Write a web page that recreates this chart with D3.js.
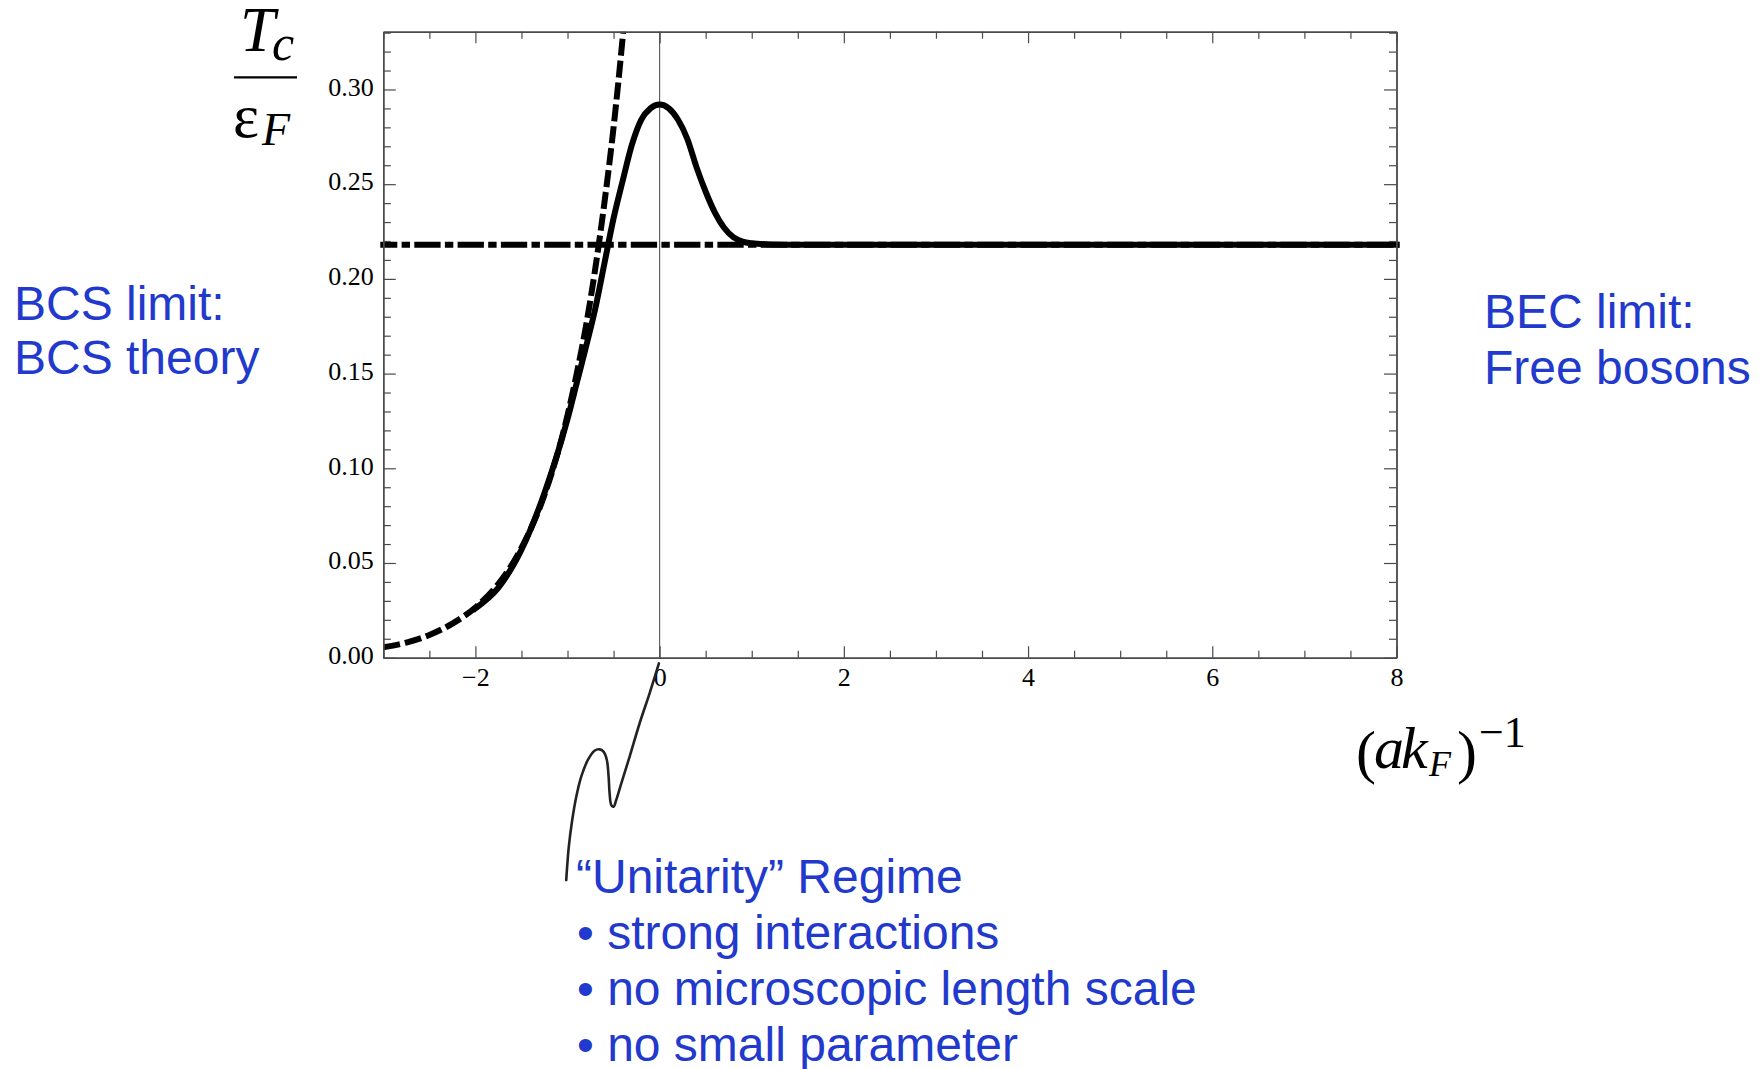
<!DOCTYPE html>
<html><head><meta charset="utf-8">
<script src="https://cdn.jsdelivr.net/npm/d3@7"></script>
<style>body{margin:0;background:#fff} svg{display:block}</style>
</head><body><svg id="c" width="1764" height="1069"></svg>
<script>
// ---- data ----
const xMajorTicks = [-2, 0, 2, 4, 6, 8];
const yMajorTicks = [0.00, 0.05, 0.10, 0.15, 0.20, 0.25, 0.30];
const xDomain = [-3, 8];
const yDomain = [0, 0.3305];
// BCS-limit (dashed) curve
const bcsX = [-3.0,-2.75,-2.5,-2.25,-2.0,-1.75,-1.5,-1.25,-1.0,-0.9,-0.8,-0.7,-0.6,-0.5,-0.45,-0.4,-0.38];
const bcsY = [0.0055,0.0080,0.0120,0.0180,0.0265,0.0390,0.0580,0.0860,0.1280,0.1500,0.1750,0.2050,0.2400,0.2800,0.3030,0.3280,0.3380];
// crossover Tc (solid) curve
const tcX = [-2.0,-1.75,-1.5,-1.25,-1.0,-0.9,-0.8,-0.7,-0.6,-0.5,-0.4,-0.3,-0.2,-0.1,0.0,0.1,0.2,0.3,0.4,0.5,0.6,0.7,0.8,0.9,1.0,1.2,1.5,2,3,4,5,6,7,8];
const tcY = [0.026,0.037,0.057,0.087,0.126,0.145,0.164,0.184,0.208,0.232,0.252,0.271,0.284,0.290,0.292,0.290,0.284,0.274,0.259,0.246,0.235,0.227,0.222,0.2197,0.2188,0.2182,0.218,0.218,0.218,0.218,0.218,0.218,0.218,0.218];
// BEC limit (dash-dot) level
const becLevel = 0.218;
// hand-drawn pointer to the unitarity point (data units)
const squiggleX = [-0.008,-0.109,-0.217,-0.326,-0.416,-0.471,-0.500,-0.525,-0.543,-0.554,-0.573,-0.609,-0.652,-0.707,-0.779,-0.851,-0.905,-0.949,-0.986,-1.014];
const squiggleY = [-0.003,-0.0188,-0.0346,-0.0523,-0.0663,-0.0751,-0.0787,-0.0778,-0.0716,-0.0628,-0.054,-0.0496,-0.0484,-0.0491,-0.054,-0.0628,-0.0734,-0.0857,-0.0998,-0.1174];
const bcsLabel = ["BCS limit:", "BCS theory"];
const becLabel = ["BEC limit:", "Free bosons"];
const unitLabel = ["\u201CUnitarity\u201D Regime", "\u2022 strong interactions", "\u2022 no microscopic length scale", "\u2022 no small parameter"];

// ---- layout ----
const svg = d3.select("#c");
const L = 383.3, R = 1396.5, T = 31.7, B = 657.7;
const x = d3.scaleLinear().domain(xDomain).range([L, R]);
const y = d3.scaleLinear().domain(yDomain).range([B, T]);
const frameCol = "#4a4a4a";
const blue = "#2139cc";
const serif = "'Liberation Serif','Times New Roman',serif";
const sans = "'Liberation Sans',Arial,sans-serif";

svg.append("defs").append("clipPath").attr("id","plot")
  .append("rect").attr("x",L).attr("y",T).attr("width",R-L).attr("height",B-T);

// vertical line at 0
svg.append("line").attr("x1",x(0)).attr("x2",x(0)).attr("y1",y(0)).attr("y2",T)
  .attr("stroke","#555").attr("stroke-width",1.1);

// BEC dash-dot line
svg.append("line").attr("x1",x(xDomain[0])-3).attr("x2",x(xDomain[1])+3)
  .attr("y1",y(becLevel)).attr("y2",y(becLevel))
  .attr("stroke","#000").attr("stroke-width",6)
  .attr("stroke-dasharray","26.3,4.3,8.4,4.3").attr("stroke-dashoffset",9.3);

const line = d3.line().x(d=>x(d[0])).y(d=>y(d[1])).curve(d3.curveMonotoneX);

svg.append("path").datum(bcsX.map((v,i)=>[v,bcsY[i]]))
  .attr("d",line).attr("fill","none").attr("stroke","#000").attr("stroke-width",6)
  .attr("stroke-dasharray","17,5").attr("clip-path","url(#plot)");

svg.append("path").datum(tcX.map((v,i)=>[v,tcY[i]]))
  .attr("d",line).attr("fill","none").attr("stroke","#000").attr("stroke-width",6)
  .attr("stroke-linejoin","round").attr("stroke-linecap","square");

// ---- frame & ticks ----
const xMinor = d3.range(-3, 8.001, 0.5).filter(v=>!xMajorTicks.includes(v));
const yMinor = d3.range(0, 0.3301, 0.01).map(v=>+v.toFixed(2)).filter(v=>!yMajorTicks.some(m=>Math.abs(m-v)<1e-6));

function styleAxis(g){
  g.selectAll("path.domain").attr("stroke",frameCol).attr("stroke-width",1.4);
  g.selectAll(".tick line").attr("stroke",frameCol).attr("stroke-width",1.2);
  g.selectAll("text").attr("font-family",serif).attr("font-size",26).attr("fill","#000");
}
const fmtX = d3.format("");
const fmtY = d3.format(".2f");

// bottom
svg.append("g").attr("transform",`translate(0,${B})`)
  .call(d3.axisBottom(x).tickValues(xMajorTicks).tickSize(-11.5).tickSizeOuter(0).tickPadding(10).tickFormat(fmtX)).call(styleAxis);
svg.append("g").attr("transform",`translate(0,${B})`)
  .call(d3.axisBottom(x).tickValues(xMinor).tickSize(-7).tickSizeOuter(0).tickFormat("")).call(styleAxis);
// top
svg.append("g").attr("transform",`translate(0,${T})`)
  .call(d3.axisTop(x).tickValues(xMajorTicks).tickSize(-11.5).tickSizeOuter(0).tickFormat("")).call(styleAxis);
svg.append("g").attr("transform",`translate(0,${T})`)
  .call(d3.axisTop(x).tickValues(xMinor).tickSize(-7).tickSizeOuter(0).tickFormat("")).call(styleAxis);
// left
const yAxisG = svg.append("g").attr("transform",`translate(${L},0)`)
  .call(d3.axisLeft(y).tickValues(yMajorTicks).tickSize(-12.5).tickSizeOuter(0).tickPadding(9.5).tickFormat(fmtY)).call(styleAxis);
yAxisG.selectAll("text").attr("dy","0.22em");
svg.append("g").attr("transform",`translate(${L},0)`)
  .call(d3.axisLeft(y).tickValues(yMinor).tickSize(-7.5).tickSizeOuter(0).tickFormat("")).call(styleAxis);
// right
svg.append("g").attr("transform",`translate(${R},0)`)
  .call(d3.axisRight(y).tickValues(yMajorTicks).tickSize(-12.5).tickSizeOuter(0).tickFormat("")).call(styleAxis);
svg.append("g").attr("transform",`translate(${R},0)`)
  .call(d3.axisRight(y).tickValues(yMinor).tickSize(-7.5).tickSizeOuter(0).tickFormat("")).call(styleAxis);

// ---- axis titles ----
const yt = svg.append("g").attr("font-family",serif).attr("fill","#000");
yt.append("text").attr("x",240).attr("y",51).attr("font-size",63).attr("font-style","italic").text("T");
yt.append("text").attr("x",272).attr("y",60).attr("font-size",50).attr("font-style","italic").text("c");
yt.append("line").attr("x1",234).attr("x2",297).attr("y1",77.3).attr("y2",77.3).attr("stroke","#000").attr("stroke-width",2.2);
yt.append("text").attr("x",233).attr("y",137).attr("font-size",62).text("\u03B5");
yt.append("text").attr("x",262).attr("y",145).attr("font-size",46).attr("font-style","italic").text("F");

const xt = svg.append("g").attr("font-family",serif).attr("fill","#000");
xt.append("text").attr("x",1356).attr("y",772).attr("font-size",60).text("(");
xt.append("text").attr("x",1374).attr("y",768).attr("font-size",60).attr("font-style","italic").text("a");
xt.append("text").attr("x",1401).attr("y",768).attr("font-size",60).attr("font-style","italic").text("k");
xt.append("text").attr("x",1429).attr("y",776).attr("font-size",36).attr("font-style","italic").text("F");
xt.append("text").attr("x",1457).attr("y",772).attr("font-size",60).text(")");
xt.append("text").attr("x",1479).attr("y",747).attr("font-size",44).text("\u22121");

// ---- pointer squiggle ----
svg.append("path").datum(squiggleX.map((v,i)=>[v,squiggleY[i]]))
  .attr("d", d3.line().x(d=>x(d[0])).y(d=>y(d[1])).curve(d3.curveCatmullRom.alpha(0.5)))
  .attr("fill","none").attr("stroke","#222").attr("stroke-width",2.6).attr("stroke-linecap","round");

// ---- blue annotations ----
const ann = svg.append("g").attr("font-family",sans).attr("font-size",48).attr("fill",blue);
bcsLabel.forEach((t,i)=>ann.append("text").attr("x",14).attr("y",320+i*53.5).text(t));
becLabel.forEach((t,i)=>ann.append("text").attr("x",1484).attr("y",328+i*56).text(t));
unitLabel.forEach((t,i)=>ann.append("text").attr("x",i===0?576:577).attr("y",893+i*56).text(t));
</script></body></html>
